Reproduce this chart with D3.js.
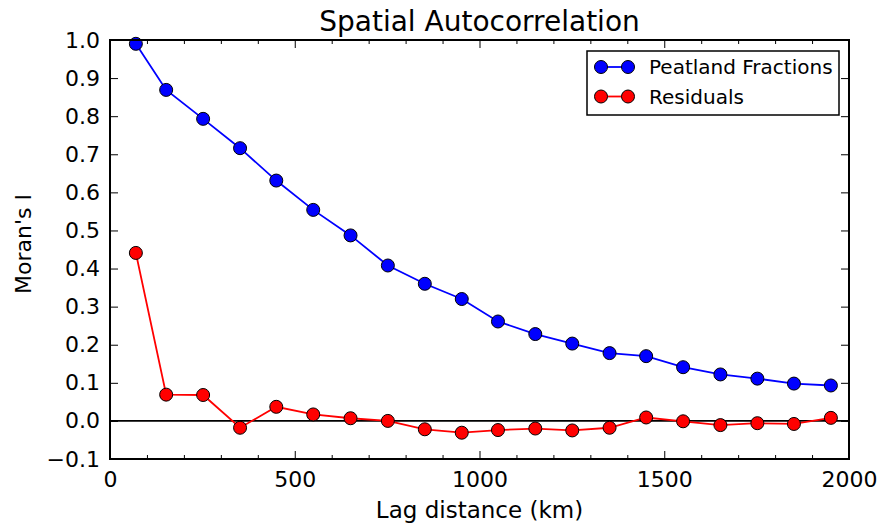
<!DOCTYPE html>
<html>
<head>
<meta charset="utf-8">
<script src="https://cdn.jsdelivr.net/npm/d3@7"></script>
<style>
  body { margin: 0; background: #fff; }
  text { font-family: "DejaVu Sans", sans-serif; fill: #000; }
</style>
</head>
<body>
<div id="chart"></div>
<script>
// lag distances (km)
var lags = [70, 152, 252, 352, 450, 550, 651, 752, 852, 952, 1050, 1151, 1251, 1352, 1451, 1551, 1652, 1752, 1851, 1951];
var peatland = [0.990, 0.869, 0.793, 0.716, 0.631, 0.554, 0.487, 0.408, 0.360, 0.320, 0.261, 0.228, 0.203, 0.178, 0.170, 0.141, 0.122, 0.111, 0.098, 0.093];
var residuals = [0.441, 0.069, 0.068, -0.018, 0.037, 0.017, 0.007, 0.000, -0.022, -0.031, -0.024, -0.020, -0.025, -0.018, 0.009, -0.001, -0.011, -0.006, -0.008, 0.008];
var seriesNames = ["Peatland Fractions", "Residuals"];
var seriesColors = ["#0000ff", "#ff0000"];
var yTicks = [-0.1, 0, 0.1, 0.2, 0.3, 0.4, 0.5, 0.6, 0.7, 0.8, 0.9, 1.0];
var xTicks = [0, 500, 1000, 1500, 2000];

Chart();

function Chart() {
    var w = 883, h = 527;
    var left = 110, right = 849, top = 40, bottom = 459;

    var svg = d3.select("#chart").append("svg")
        .attr("width", w)
        .attr("height", h);

    var x = d3.scaleLinear().domain([0, 2000]).range([left, right]);
    var y = d3.scaleLinear().domain([-0.1, 1.0]).range([bottom, top]);

    // ticks (inward, on all four sides)
    var minorX = d3.range(0, 2001, 100).filter(function(d) { return d % 500 !== 0; });

    var xb = svg.append("g").attr("transform", "translate(0," + bottom + ")")
        .call(d3.axisBottom(x).tickValues(xTicks).tickSizeInner(-8).tickSizeOuter(0).tickPadding(12).tickFormat(d3.format("d")));
    xb.selectAll("text").style("font-size", "22px").attr("dy", "0.71em");
    svg.append("g").attr("transform", "translate(0," + bottom + ")")
        .call(d3.axisBottom(x).tickValues(minorX).tickSizeInner(-4).tickSizeOuter(0).tickFormat(""));
    svg.append("g").attr("transform", "translate(0," + top + ")")
        .call(d3.axisTop(x).tickValues(xTicks).tickSizeInner(-8).tickSizeOuter(0).tickFormat(""));
    svg.append("g").attr("transform", "translate(0," + top + ")")
        .call(d3.axisTop(x).tickValues(minorX).tickSizeInner(-4).tickSizeOuter(0).tickFormat(""));

    var yl = svg.append("g").attr("transform", "translate(" + left + ",0)")
        .call(d3.axisLeft(y).tickValues(yTicks).tickSizeInner(-8).tickSizeOuter(0).tickPadding(10)
            .tickFormat(function(d) { return d < 0 ? "\u2212" + d3.format(".1f")(-d) : d3.format(".1f")(d); }));
    yl.selectAll("text").style("font-size", "22px");
    svg.append("g").attr("transform", "translate(" + right + ",0)")
        .call(d3.axisRight(y).tickValues(yTicks).tickSizeInner(-8).tickSizeOuter(0).tickFormat(""));

    svg.selectAll(".domain").remove();
    svg.selectAll(".tick line").attr("stroke", "#000").attr("stroke-width", 1);

    // zero line
    svg.append("line")
        .attr("x1", x(0)).attr("x2", x(2000))
        .attr("y1", y(0)).attr("y2", y(0))
        .attr("stroke", "#000").attr("stroke-width", 1.8);

    var line = d3.line()
        .x(function(d) { return x(d[0]); })
        .y(function(d) { return y(d[1]); });

    var allSeries = [peatland, residuals];
    allSeries.forEach(function(vals, i) {
        var pts = lags.map(function(l, j) { return [l, vals[j]]; });
        svg.append("path")
            .attr("d", line(pts))
            .attr("fill", "none")
            .attr("stroke", seriesColors[i])
            .attr("stroke-width", 1.8);
        svg.selectAll(".pt" + i)
            .data(pts)
            .enter()
            .append("circle")
            .attr("cx", function(d) { return x(d[0]); })
            .attr("cy", function(d) { return y(d[1]); })
            .attr("r", 6.5)
            .attr("fill", seriesColors[i])
            .attr("stroke", "#000")
            .attr("stroke-width", 1);
    });

    // frame
    svg.append("rect")
        .attr("x", left).attr("y", top)
        .attr("width", right - left).attr("height", bottom - top)
        .attr("fill", "none").attr("stroke", "#000").attr("stroke-width", 2);

    // legend
    var lg = svg.append("g");
    lg.append("rect")
        .attr("x", 587).attr("y", 51).attr("width", 252).attr("height", 64)
        .attr("fill", "#fff").attr("stroke", "#000").attr("stroke-width", 1.5);
    seriesNames.forEach(function(name, i) {
        var ly = 67 + i * 29.5;
        lg.append("line")
            .attr("x1", 601).attr("x2", 628).attr("y1", ly).attr("y2", ly)
            .attr("stroke", seriesColors[i]).attr("stroke-width", 1.8);
        [601, 628].forEach(function(cx) {
            lg.append("circle")
                .attr("cx", cx).attr("cy", ly).attr("r", 6.5)
                .attr("fill", seriesColors[i]).attr("stroke", "#000").attr("stroke-width", 1);
        });
        lg.append("text")
            .attr("x", 649).attr("y", ly).attr("dy", "0.36em")
            .style("font-size", "20px")
            .text(name);
    });

    // titles
    svg.append("text")
        .attr("x", (left + right) / 2).attr("y", 31)
        .attr("text-anchor", "middle")
        .style("font-size", "28px")
        .text("Spatial Autocorrelation");

    svg.append("text")
        .attr("x", (left + right) / 2).attr("y", 518)
        .attr("text-anchor", "middle")
        .style("font-size", "23px")
        .text("Lag distance (km)");

    svg.append("text")
        .attr("transform", "translate(31,244) rotate(-90)")
        .attr("text-anchor", "middle")
        .style("font-size", "22px")
        .text("Moran's I");
}
</script>
</body>
</html>
